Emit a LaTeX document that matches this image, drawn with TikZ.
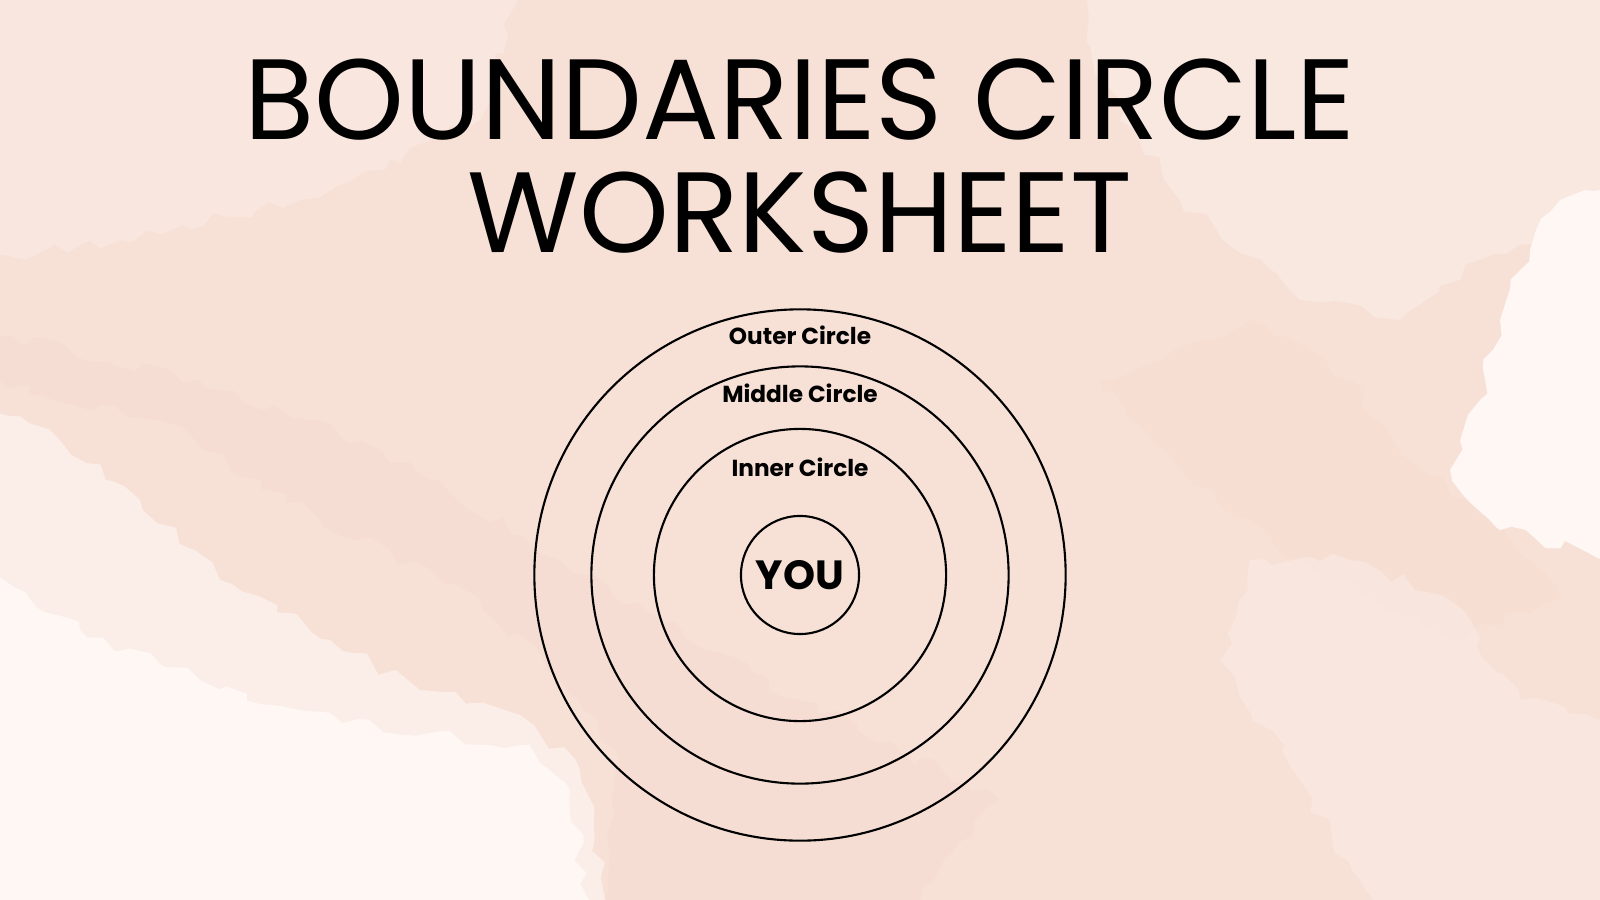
\documentclass[tikz,border=0pt]{standalone}
\usepackage{fontspec}
\setmainfont{Poppins}
\usetikzlibrary{decorations.pathmorphing}
\definecolor{blush}{HTML}{F7E1D7}
\definecolor{blushdeep}{HTML}{F4D8CC}
\definecolor{blushlight}{HTML}{FBEDE7}
\definecolor{paper}{HTML}{FEF7F4}
\tikzset{
  ring/.style={circle, draw=black, line width=0.6pt, inner sep=0pt},
  ringlabel/.style={font=\bfseries\fontsize{6.6}{8}\selectfont, inner sep=0pt},
  wash/.style={decorate, decoration={random steps, segment length=4, amplitude=2}},
}

\begin{document}
\begin{tikzpicture}[x=0.01cm, y=-0.01cm]
  \useasboundingbox (0,0) rectangle (1600,900);
  \clip (0,0) rectangle (1600,900);
  %%%%% BACKGROUND %%%%%
  \fill[blush] (0,0) rectangle (1600,900);
  \fill[blushlight, opacity=0.5, wash] (-20,-20) -- (520,-20) -- (480,120) -- (300,200) -- (120,240) -- (-20,260) -- cycle;
  \fill[blushlight, opacity=0.6, wash] (1080,-20) -- (1620,-20) -- (1620,200) -- (1480,260) -- (1400,320) -- (1300,300) -- (1180,200) -- (1100,80) -- cycle;
  \fill[blushdeep, opacity=0.35, wash] (-20,380) -- (160,420) -- (320,520) -- (480,600) -- (560,680) -- (620,760) -- (600,920) -- (900,920) -- (1000,800) -- (800,700) -- (560,560) -- (380,450) -- (200,380) -- (-20,330) -- cycle;
  \fill[blushdeep, opacity=0.3, wash] (1100,380) -- (1250,320) -- (1350,380) -- (1420,470) -- (1500,520) -- (1560,600) -- (1450,640) -- (1300,560) -- (1180,470) -- cycle;
  \fill[paper, opacity=0.6, wash] (-20,400) -- (60,440) -- (140,500) -- (220,580) -- (330,640) -- (420,690) -- (520,715) -- (580,770) -- (610,920) -- (-20,920) -- cycle;
  \fill[paper, wash] (-20,560) -- (80,630) -- (200,680) -- (300,710) -- (420,735) -- (520,745) -- (570,790) -- (590,920) -- (-20,920) -- cycle;
  \fill[paper, wash] (1620,180) -- (1560,200) -- (1530,250) -- (1500,320) -- (1480,400) -- (1450,470) -- (1500,530) -- (1620,560) -- cycle;
  \fill[blushlight, opacity=0.5, wash] (1250,560) -- (1350,560) -- (1450,600) -- (1520,700) -- (1620,720) -- (1620,920) -- (1380,920) -- (1300,780) -- (1220,660) -- cycle;

  %%%%% TITLE %%%%%
  \node[font=\fontsize{32.5}{40}\selectfont, anchor=base] (title1) at (800,139) {BOUNDARIES CIRCLE};
  \node[font=\fontsize{32.5}{40}\selectfont, anchor=base] (title2) at (800,252) {WORKSHEET};

  %%%%% RINGS %%%%%
  \node[ring, minimum size=5.31cm] (outer) at (800,575) {};
  \node[ring, minimum size=4.17cm] (middle) at (800,575) {};
  \node[ring, minimum size=2.92cm] (inner) at (800,575) {};
  \node[ring, minimum size=1.18cm] (you) at (800,575) {};

  \node[ringlabel] (outerlabel) at (800,335) {Outer Circle};
  \node[ringlabel] (middlelabel) at (800,393) {Middle Circle};
  \node[ringlabel] (innerlabel) at (800,467) {Inner Circle};
  \node[font=\bfseries\fontsize{11.6}{13}\selectfont, inner sep=0pt] (youlabel) at (you) {YOU};
\end{tikzpicture}
\end{document}
